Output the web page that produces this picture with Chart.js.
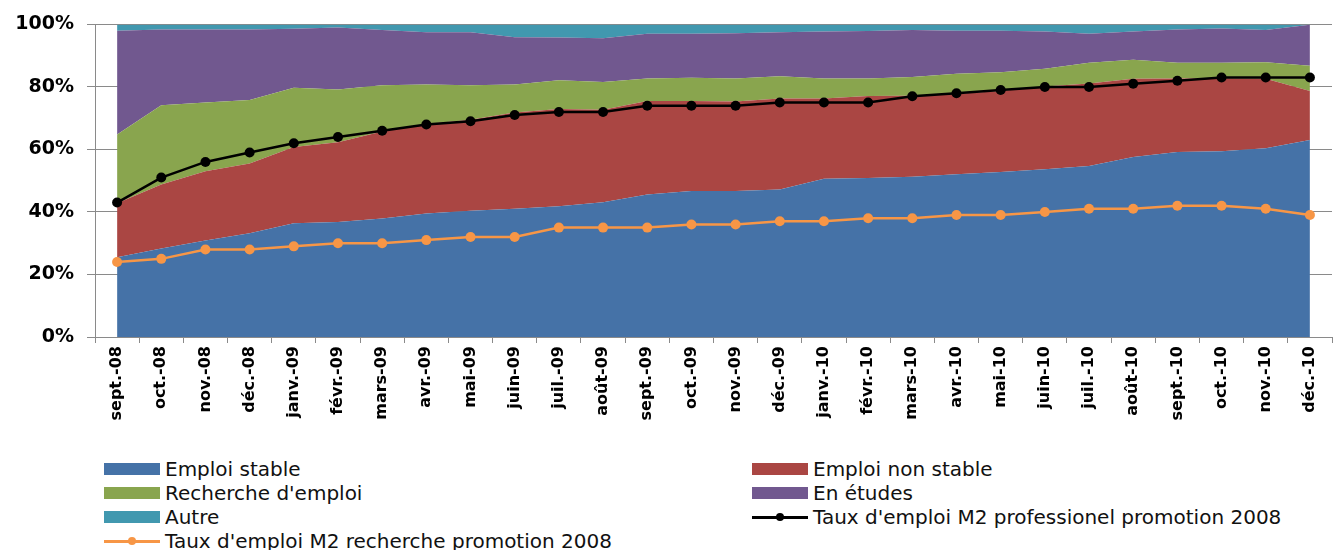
<!DOCTYPE html>
<html>
<head>
<meta charset="utf-8">
<script src="https://cdn.jsdelivr.net/npm/chart.js@4.4.1/dist/chart.umd.min.js"></script>
<style>
    body { margin: 0; background: #fff; }
    #wrap { position: relative; width: 1338px; height: 550px; }
    #legend {
        position: absolute; left: 104px; top: 457px;
        display: grid; grid-template-columns: 648px 580px;
        font-family: "DejaVu Sans"; font-size: 20px; color: #111;
    }
    .item { display: flex; align-items: center; height: 24px; white-space: nowrap; }
    .sw { width: 56px; height: 12px; margin-right: 5px; position: relative; flex: none; }
    .sw .ln { position: absolute; left: 0; right: 0; top: 5px; height: 3px; }
    .sw .dot { position: absolute; left: 24px; top: 2px; width: 8px; height: 8px; border-radius: 50%; }
</style>
</head>
<body>
<div id="wrap">
    <canvas id="myChart" width="1338" height="440"></canvas>
    <div id="legend"></div>
</div>
<script>
const categories = ['sept.-08', 'oct.-08', 'nov.-08', 'déc.-08', 'janv.-09', 'févr.-09', 'mars-09', 'avr.-09',
    'mai-09', 'juin-09', 'juil.-09', 'août-09', 'sept.-09', 'oct.-09', 'nov.-09', 'déc.-09', 'janv.-10',
    'févr.-10', 'mars-10', 'avr.-10', 'mai-10', 'juin-10', 'juil.-10', 'août-10', 'sept.-10', 'oct.-10',
    'nov.-10', 'déc.-10'];

// parts of the 100% stack
const emploiStable = [25.5, 28.3, 30.9, 33.2, 36.4, 36.8, 37.9, 39.5, 40.4, 41.0, 41.8, 43.1, 45.6, 46.7,
    46.7, 47.2, 50.6, 50.9, 51.3, 52.1, 52.8, 53.7, 54.7, 57.6, 59.2, 59.4, 60.4, 63.0];
const emploiNonStable = [17.3, 20.5, 22.1, 22.3, 24.4, 25.5, 27.8, 28.6, 29.1, 30.8, 31.1, 29.6, 29.9, 28.8,
    28.6, 29.1, 25.7, 26.2, 25.9, 25.7, 25.9, 26.4, 26.4, 25.0, 23.5, 23.4, 22.2, 15.7];
const rechercheEmploi = [22.0, 25.3, 22.0, 20.3, 18.9, 16.9, 14.8, 12.7, 11.0, 9.0, 9.2, 8.9, 7.2, 7.4,
    7.4, 7.1, 6.4, 5.6, 6.0, 6.4, 6.0, 5.7, 6.6, 6.1, 5.0, 4.9, 5.3, 8.1];
const enEtudes = [33.2, 24.3, 23.4, 22.6, 18.9, 19.8, 17.7, 16.7, 17.0, 15.1, 13.7, 14.0, 14.3, 14.1,
    14.5, 14.1, 15.0, 15.2, 15.0, 13.8, 13.3, 11.9, 9.3, 9.0, 10.7, 11.0, 10.3, 13.1];
const autre = [2.0, 1.6, 1.6, 1.6, 1.4, 1.0, 1.8, 2.5, 2.5, 4.1, 4.2, 4.4, 3.0, 3.0,
    2.8, 2.5, 2.3, 2.1, 1.8, 2.0, 2.0, 2.3, 3.0, 2.3, 1.6, 1.3, 1.8, 0.1];

// employment rate lines
const tauxPro = [43, 51, 56, 59, 62, 64, 66, 68, 69, 71, 72, 72, 74, 74, 74, 75, 75, 75, 77, 78, 79, 80,
    80, 81, 82, 83, 83, 83];
const tauxRecherche = [24, 25, 28, 28, 29, 30, 30, 31, 32, 32, 35, 35, 35, 36, 36, 37, 37, 38, 38, 39, 39,
    40, 41, 41, 42, 42, 41, 39];

const yTicks = [0, 20, 40, 60, 80, 100];

function area(label, data, color, fill) {
    return {
        label, data,
        backgroundColor: color,
        borderColor: color,
        borderWidth: 0,
        pointRadius: 0,
        fill,
        stack: 'areas',
        order: 1,
        kind: 'area'
    };
}

function line(label, data, color, width, stack) {
    return {
        label, data,
        borderColor: color,
        backgroundColor: color,
        borderWidth: width,
        pointRadius: 5,
        pointBorderWidth: 0,
        fill: false,
        stack,
        order: 0,
        kind: 'line'
    };
}

const datasets = [
    area('Emploi stable', emploiStable, '#4572A7', 'origin'),
    area('Emploi non stable', emploiNonStable, '#AA4643', '-1'),
    area("Recherche d'emploi", rechercheEmploi, '#89A54E', '-1'),
    area('En études', enEtudes, '#71588F', '-1'),
    area('Autre', autre, '#4198AF', '-1'),
    line("Taux d'emploi M2 professionel promotion 2008", tauxPro, '#000000', 2.5, 'pro'),
    line("Taux d'emploi M2 recherche promotion 2008", tauxRecherche, '#F79646', 2.5, 'rech')
];

const gridColor = '#8a8a8a';

const chart = new Chart(document.getElementById('myChart'), {
    type: 'line',
    data: { labels: categories, datasets },
    options: {
        responsive: false,
        animation: false,
        layout: { padding: { top: 22, right: 6, left: 0, bottom: 0 } },
        plugins: { legend: { display: false }, tooltip: { enabled: false } },
        elements: { line: { tension: 0 } },
        scales: {
            x: {
                offset: true,
                grid: { offset: true, drawOnChartArea: false, tickLength: 6, color: gridColor },
                border: { color: gridColor },
                ticks: {
                    minRotation: 90, maxRotation: 90, autoSkip: false, padding: 3,
                    color: '#000', font: { family: 'DejaVu Sans', weight: 'bold', size: 16 }
                },
                afterFit: s => { s.height = 103; }
            },
            y: {
                stacked: true,
                min: 0, max: 100,
                afterBuildTicks: s => { s.ticks = yTicks.map(v => ({ value: v })); },
                grid: { color: gridColor, tickLength: 8 },
                border: { color: gridColor },
                ticks: {
                    padding: 13, color: '#000',
                    font: { family: 'DejaVu Sans', weight: 'bold', size: 19 },
                    callback: v => v + '%'
                },
                afterFit: s => { s.width = 95; }
            }
        }
    }
});

// legend in two columns, built from the chart datasets
const legend = document.getElementById('legend');
chart.data.datasets.forEach(ds => {
    const item = document.createElement('div');
    item.className = 'item';
    const sw = document.createElement('div');
    sw.className = 'sw';
    if (ds.kind === 'area') {
        sw.style.background = ds.backgroundColor;
    } else {
        sw.innerHTML = '<div class="ln" style="background:' + ds.borderColor + '"></div>' +
            '<div class="dot" style="background:' + ds.borderColor + '"></div>';
    }
    const txt = document.createElement('span');
    txt.textContent = ds.label;
    item.appendChild(sw);
    item.appendChild(txt);
    legend.appendChild(item);
});
</script>
</body>
</html>
